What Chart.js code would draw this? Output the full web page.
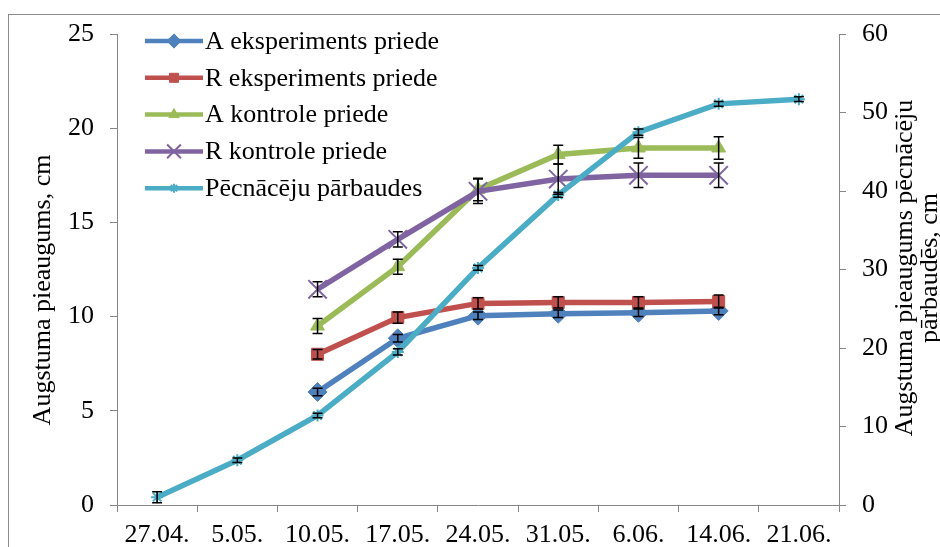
<!DOCTYPE html>
<html>
<head>
<meta charset="utf-8">
<script src="https://cdn.jsdelivr.net/npm/chart.js@4.4.1/dist/chart.umd.min.js"></script>
<style>
html,body{margin:0;padding:0;background:#fff;overflow:hidden;}
canvas{display:block;}
.pre{font-family:"Liberation Serif";position:absolute;left:-1000px;top:0;font-size:26px;}
</style>
</head>
<body>
<span class="pre">Aā 0123</span>
<canvas id="c" width="940" height="547"></canvas>
<script>
// ---- data ----
const categories = ["27.04.", "5.05.", "10.05.", "17.05.", "24.05.", "31.05.", "6.06.", "14.06.", "21.06."];
const seriesNames = ["A eksperiments priede", "R eksperiments priede", "A kontrole priede", "R kontrole priede", "Pēcnācēju pārbaudes"];
const aEksperiments = [null, null, 6.0, 8.85, 10.05, 10.15, 10.2, 10.3, null];
const rEksperiments = [null, null, 8.0, 9.95, 10.7, 10.75, 10.75, 10.8, null];
const aKontrole = [null, null, 9.5, 12.65, 16.75, 18.6, 18.95, 18.95, null];
const rKontrole = [null, null, 11.45, 14.1, 16.65, 17.3, 17.5, 17.5, null];
const pecnaceju = [1.0, 5.7, 11.4, 19.5, 30.2, 39.5, 47.5, 51.1, 51.7];
const errAEksperiments = [null, null, 0.2, 0.2, 0.2, 0.2, 0.2, 0.2, null];
const errREksperiments = [null, null, 0.25, 0.3, 0.3, 0.3, 0.3, 0.35, null];
const errAKontrole = [null, null, 0.4, 0.4, 0.6, 0.5, 0.55, 0.6, null];
const errRKontrole = [null, null, 0.4, 0.4, 0.65, 0.8, 0.65, 0.65, null];
const errPecnaceju = [0.7, 0.3, 0.3, 0.4, 0.3, 0.3, 0.4, 0.3, 0.3];
const leftTicks = [0, 5, 10, 15, 20, 25];
const rightTicks = [0, 10, 20, 30, 40, 50, 60];
const leftTitle = "Augstuma pieaugums, cm";
const rightTitleLines = ["Augstuma pieaugums pēcnācēju", "pārbaudēs, cm"];

// ---- styles ----
const FONT = '"Liberation Serif", "DejaVu Serif", serif';
const AXIS = '#868686';
const colors = ['#4F81BD', '#C0504D', '#9BBB59', '#8064A2', '#4BACC6'];
const styles = [
  {pointStyle: 'rectRot', radius: 9.5, bw: 1},
  {pointStyle: 'rect', radius: 8.5, bw: 1},
  {pointStyle: 'triangle', radius: 8, bw: 1},
  {pointStyle: 'crossRot', radius: 13, bw: 2},
  {pointStyle: 'star', radius: 6, bw: 2}
];
const values = [aEksperiments, rEksperiments, aKontrole, rKontrole, pecnaceju];
const errors = [errAEksperiments, errREksperiments, errAKontrole, errRKontrole, errPecnaceju];
const axes = ['y', 'y', 'y', 'y', 'y1'];

const datasets = values.map((v, i) => ({
  label: seriesNames[i],
  data: v,
  yAxisID: axes[i],
  borderColor: colors[i],
  backgroundColor: colors[i],
  borderWidth: 5.5,
  pointStyle: styles[i].pointStyle,
  pointRadius: styles[i].radius,
  pointHoverRadius: styles[i].radius,
  pointBorderWidth: styles[i].bw,
  pointBorderColor: colors[i],
  pointBackgroundColor: colors[i],
  tension: 0,
  spanGaps: false,
  order: 5 - i,
  errors: errors[i]
}));

const decor = {
  id: 'decor',
  beforeDraw(chart) {
    const ctx = chart.ctx;
    ctx.save();
    ctx.strokeStyle = '#8c8c8c';
    ctx.lineWidth = 1;
    ctx.strokeRect(8.5, 14.5, 1000, 600);
    ctx.restore();
  },
  afterDatasetsDraw(chart) {
    const ctx = chart.ctx;
    ctx.save();
    ctx.strokeStyle = '#000';
    ctx.lineWidth = 1.5;
    chart.data.datasets.forEach((ds, i) => {
      const meta = chart.getDatasetMeta(i);
      const sc = chart.scales[ds.yAxisID];
      ds.data.forEach((v, j) => {
        const e = ds.errors[j];
        if (v == null || e == null) return;
        const x = meta.data[j].x;
        const y1 = sc.getPixelForValue(v + e);
        const y2 = sc.getPixelForValue(v - e);
        ctx.beginPath();
        ctx.moveTo(x, y1); ctx.lineTo(x, y2);
        ctx.moveTo(x - 5, y1); ctx.lineTo(x + 5, y1);
        ctx.moveTo(x - 5, y2); ctx.lineTo(x + 5, y2);
        ctx.stroke();
      });
    });
    ctx.restore();
  },
  afterDraw(chart) {
    const ctx = chart.ctx;
    ctx.save();
    const ly0 = 41, step = 36.8;
    chart.data.datasets.forEach((ds, i) => {
      const y = ly0 + i * step;
      ctx.strokeStyle = ds.borderColor;
      ctx.lineWidth = 4.5;
      ctx.beginPath();
      ctx.moveTo(145, y); ctx.lineTo(203, y);
      ctx.stroke();
      ctx.fillStyle = ds.borderColor;
      ctx.strokeStyle = ds.borderColor;
      ctx.lineWidth = ds.pointBorderWidth;
      Chart.helpers.drawPoint(ctx, {pointStyle: ds.pointStyle, radius: ds.pointRadius * 0.75, borderWidth: ds.pointBorderWidth, rotation: 0}, 174, y);
      ctx.fillStyle = '#000';
      ctx.font = '26px ' + FONT;
      ctx.textAlign = 'left';
      ctx.textBaseline = 'middle';
      ctx.fillText(ds.label, 205, y + 1);
    });
    ctx.fillStyle = '#000';
    ctx.font = '26px ' + FONT;
    ctx.textAlign = 'center';
    ctx.textBaseline = 'alphabetic';
    ctx.save();
    ctx.translate(50, 290);
    ctx.rotate(-Math.PI / 2);
    ctx.fillText(leftTitle, 0, 0);
    ctx.restore();
    ctx.save();
    ctx.translate(912, 268);
    ctx.rotate(-Math.PI / 2);
    ctx.fillText(rightTitleLines[0], 0, 0);
    ctx.fillText(rightTitleLines[1], 0, 25);
    ctx.restore();
    ctx.restore();
  }
};

const tickFont = {family: FONT, size: 26};

function draw() {
  new Chart(document.getElementById('c'), {
    type: 'line',
    data: {labels: categories, datasets: datasets},
    options: {
      responsive: false,
      animation: false,
      devicePixelRatio: 1,
      layout: {padding: {top: 34, left: 0, right: 0, bottom: 0}},
      plugins: {legend: {display: false}, tooltip: {enabled: false}},
      scales: {
        x: {
          type: 'category',
          offset: true,
          grid: {display: true, drawOnChartArea: false, offset: true, tickLength: 7, color: AXIS, lineWidth: 1},
          border: {display: true, color: AXIS, width: 1},
          ticks: {font: tickFont, color: '#000', maxRotation: 0, minRotation: 0, autoSkip: false, padding: 8},
          afterFit(s) { s.height = 42; }
        },
        y: {
          position: 'left',
          min: 0, max: 25,
          afterBuildTicks(s) { s.ticks = leftTicks.map(v => ({value: v})); },
          grid: {display: true, drawOnChartArea: false, tickLength: 7, color: AXIS, lineWidth: 1},
          border: {display: true, color: AXIS, width: 1},
          ticks: {font: tickFont, color: '#000', padding: 16},
          afterFit(s) { s.width = 117; }
        },
        y1: {
          position: 'right',
          min: 0, max: 60,
          afterBuildTicks(s) { s.ticks = rightTicks.map(v => ({value: v})); },
          grid: {display: true, drawOnChartArea: false, tickLength: 7, color: AXIS, lineWidth: 1},
          border: {display: true, color: AXIS, width: 1},
          ticks: {font: tickFont, color: '#000', padding: 16},
          afterFit(s) { s.width = 101; }
        }
      }
    },
    plugins: [decor]
  });
}

if (document.fonts && document.fonts.load) {
  document.fonts.load('26px "Liberation Serif"').then(draw, draw);
} else {
  draw();
}
</script>
</body>
</html>
